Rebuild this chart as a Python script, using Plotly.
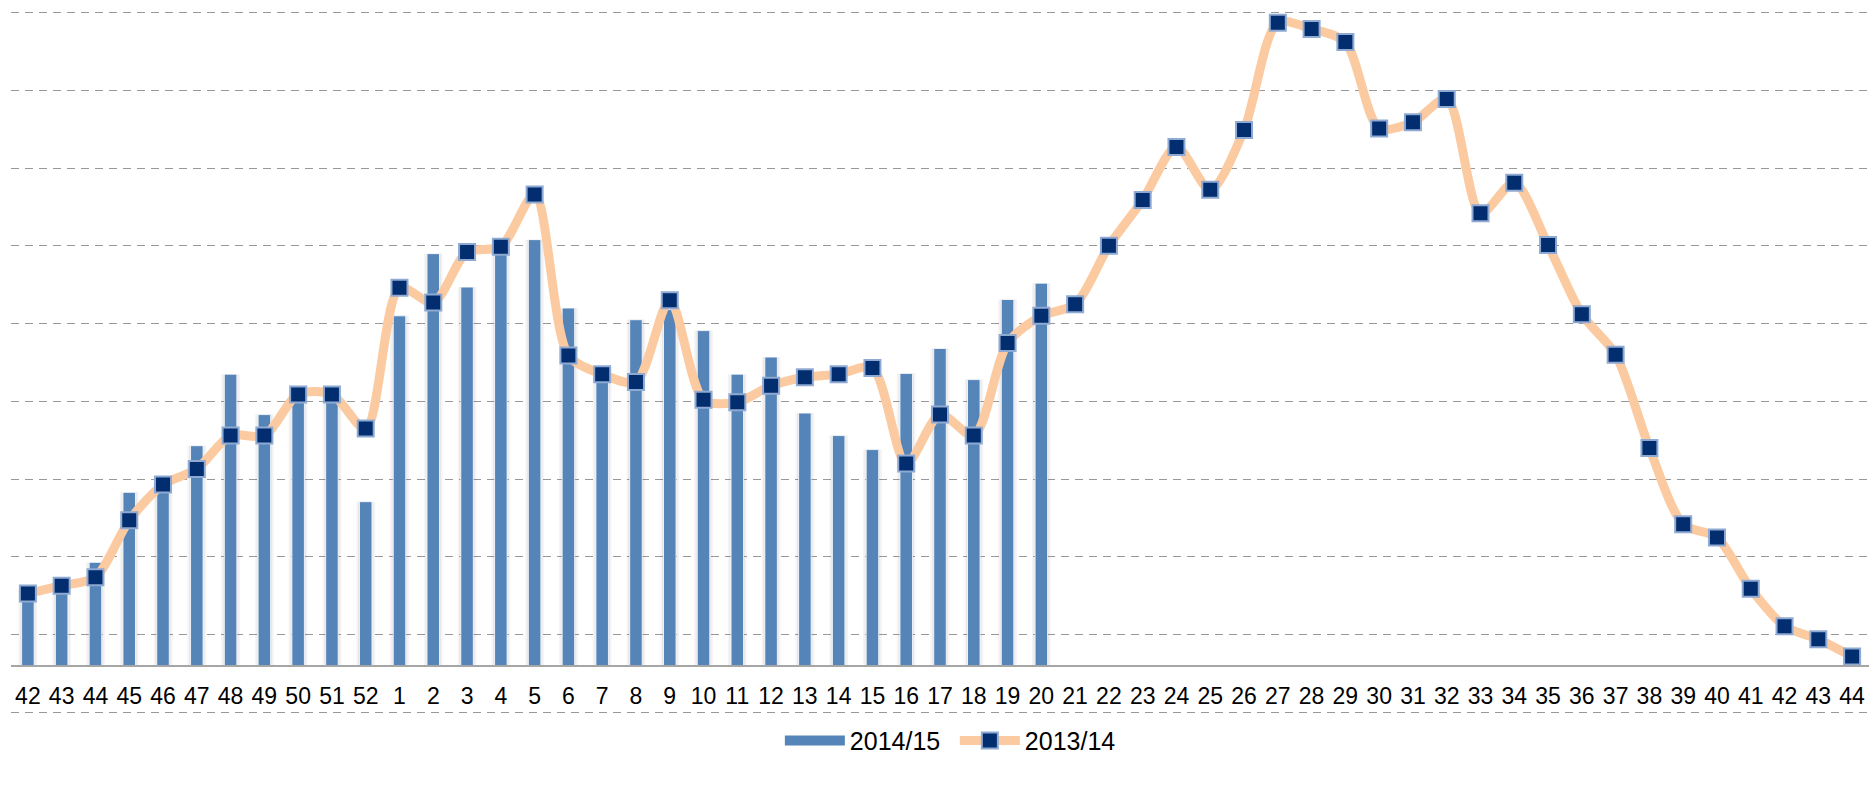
import plotly.graph_objects as go

weeks = ["42", "43", "44", "45", "46", "47", "48", "49", "50", "51", "52",
         "1", "2", "3", "4", "5", "6", "7", "8", "9", "10",
         "11", "12", "13", "14", "15", "16", "17", "18", "19", "20",
         "21", "22", "23", "24", "25", "26", "27", "28", "29", "30",
         "31", "32", "33", "34", "35", "36", "37", "38", "39", "40",
         "41", "42", "43", "44"]

season_1415 = [1.58, 1.62, 1.93, 2.83, 2.95, 3.43, 4.35, 3.83, 4.10, 4.08, 2.71,
               5.10, 5.90, 5.47, 5.95, 6.08, 5.20, 4.33, 5.05, 5.18, 4.91,
               4.35, 4.57, 3.85, 3.56, 3.38, 4.36, 4.68, 4.28, 5.31, 5.52]

season_1314 = [1.53, 1.63, 1.74, 2.47, 2.93, 3.13, 3.56, 3.56, 4.09, 4.09, 3.65,
               5.46, 5.27, 5.92, 5.99, 6.66, 4.59, 4.35, 4.25, 5.30, 4.02,
               3.99, 4.20, 4.31, 4.35, 4.43, 3.20, 3.83, 3.56, 4.75, 5.10,
               5.25, 6.00, 6.59, 7.27, 6.72, 7.49, 8.87, 8.79, 8.62, 7.51,
               7.59, 7.89, 6.42, 6.81, 6.01, 5.12, 4.60, 3.40, 2.42, 2.25,
               1.59, 1.11, 0.94, 0.72]

axis_cross = 0.6   # value where the horizontal axis crosses
y_min, y_max = -0.02, 9.02

idx_all = list(range(len(weeks)))
idx_bars = list(range(len(season_1415)))
bar_len = [v - axis_cross for v in season_1415]

fig = go.Figure()

# soft glow behind bars
for w, a in [(0.56, 0.05), (0.46, 0.07)]:
    fig.add_trace(go.Bar(
        x=idx_bars, y=bar_len, base=axis_cross, width=w,
        marker=dict(color=f"rgba(60,60,60,{a})", line=dict(width=0)),
        showlegend=False, hoverinfo="skip"))

fig.add_trace(go.Bar(
    x=idx_bars, y=bar_len, base=axis_cross, width=0.37,
    marker=dict(color="#5584B8", line=dict(color="rgba(255,255,255,0.8)", width=1)),
    name="2014/15", showlegend=False))

# legend stand-in for the bar series (wide rectangle swatch)
fig.add_trace(go.Scatter(
    x=[None], y=[None], mode="lines",
    line=dict(color="#5584B8", width=14),
    name="2014/15"))

fig.add_trace(go.Scatter(
    x=idx_all, y=season_1314, mode="lines+markers",
    line=dict(color="#FCCAA0", width=9, shape="spline", smoothing=0.8),
    marker=dict(symbol="square", size=16, color="#022E70",
                line=dict(color="#8EA9D2", width=2)),
    name="2013/14"))

fig.update_layout(
    width=1869, height=788,
    margin=dict(l=11, r=0, t=11, b=74, autoexpand=False),
    paper_bgcolor="white", plot_bgcolor="white",
    barmode="overlay",
    font=dict(family="Liberation Sans", color="#000000", size=23),
    legend=dict(orientation="h", x=0.508, xanchor="center",
                yref="container", y=0.06, yanchor="middle",
                font=dict(size=25), itemwidth=60, tracegroupgap=0,
                entrywidth=100),
    xaxis=dict(
        tickmode="array", tickvals=idx_all, ticktext=weeks,
        range=[-0.5, len(weeks) - 0.5],
        anchor="free", position=(axis_cross - y_min) / (y_max - y_min),
        showline=True, linecolor="#A6A6A6", linewidth=1.5,
        showgrid=False, zeroline=False, ticks="", automargin=False,
        ticklabelstandoff=10,
        tickfont=dict(size=23, color="#000000")),
    yaxis=dict(
        range=[y_min, y_max], tickmode="linear", tick0=0, dtick=1,
        showticklabels=False, showgrid=True, gridcolor="#999999", gridwidth=1.3,
        griddash="8px,6px", zeroline=False, showline=False, ticks="",
        automargin=False),
)

fig.write_html(
    "out.html",
    config={"displayModeBar": False},
    post_script="document.body.style.margin='0';document.body.style.overflow='hidden';",
)
